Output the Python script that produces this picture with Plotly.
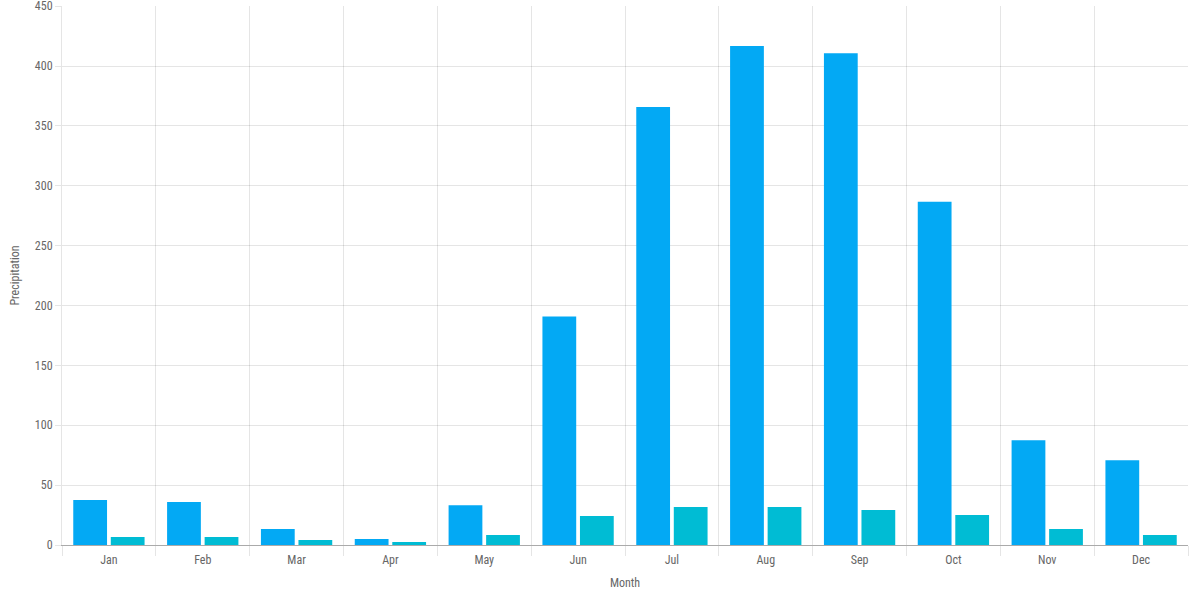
import plotly.graph_objects as go

# Monthly values
months = ['Jan', 'Feb', 'Mar', 'Apr', 'May', 'Jun',
          'Jul', 'Aug', 'Sep', 'Oct', 'Nov', 'Dec']
precipitation = [37.5, 36, 13.3, 5, 33.3, 190.8, 365.8, 416.7, 410.8, 286.7, 87.5, 70.8]
rainy_days = [6.7, 6.7, 4.2, 2.5, 8.3, 24.2, 31.7, 31.7, 29.2, 25, 13.3, 8.3]
y_ticks = [0, 50, 100, 150, 200, 250, 300, 350, 400, 450]

font_family = 'Liberation Sans Narrow, Roboto Condensed, Arial Narrow, sans-serif'
grid = 'rgba(0,0,0,0.1)'

fig = go.Figure()
fig.add_trace(go.Bar(x=months, y=precipitation, name='Precipitation',
                     marker=dict(color='#03A9F4', line=dict(width=0))))
fig.add_trace(go.Bar(x=months, y=rainy_days, name='Rainy days',
                     marker=dict(color='#00BCD4', line=dict(width=0))))

fig.update_layout(
    width=1200, height=600,
    margin=dict(l=62, r=12, t=6, b=55, autoexpand=False),
    paper_bgcolor='white', plot_bgcolor='white',
    barmode='group', bargap=0.2, bargroupgap=0.1,
    showlegend=False,
    font=dict(family=font_family, size=12, color='#666'),
)

fig.update_xaxes(
    title_text='Month', title_font=dict(size=12, color='#666'), title_standoff=12,
    tickson='boundaries', ticks='outside', ticklen=10, tickcolor=grid,
    ticklabelstandoff=4,
    showgrid=True, gridcolor=grid, automargin=False,
    showline=True, linecolor='#aaa', linewidth=1,
)
fig.update_yaxes(
    title_text='Precipitation', title_font=dict(size=12, color='#666'), title_standoff=12,
    range=[0, 450.2], tickmode='array', tickvals=y_ticks, ticklabeloverflow='allow',
    ticks='outside', ticklen=6, tickcolor=grid,
    showgrid=True, gridcolor=grid, zeroline=False, automargin=False,
    showline=True, linecolor=grid, linewidth=1,
)

# drop the default page margin so the figure sits at the window corner
fig.write_html('out.html', config={'displayModeBar': False},
               post_script="document.body.style.margin='0';")
